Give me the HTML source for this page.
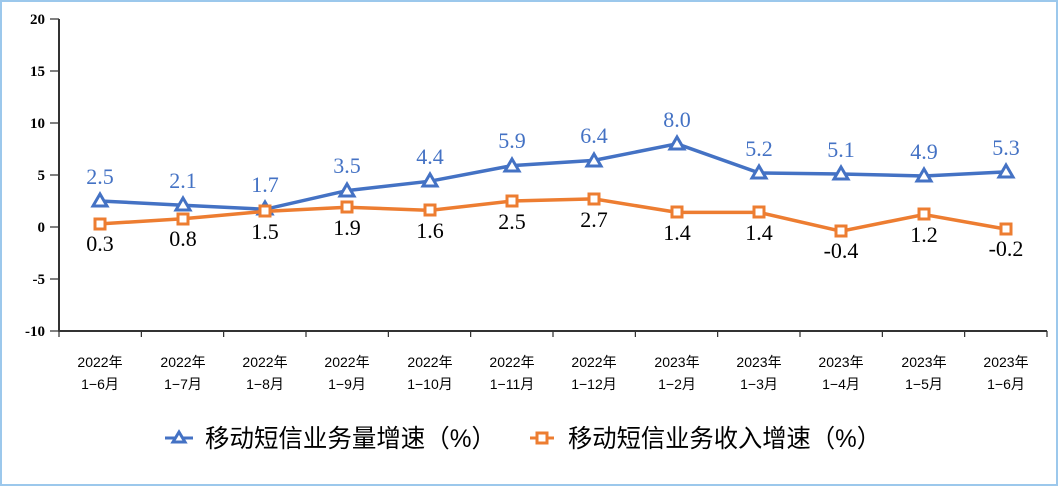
<!DOCTYPE html>
<html><head><meta charset="utf-8"><style>
html,body{margin:0;padding:0;background:#fff}
svg{display:block}
</style></head><body>
<svg width="1058" height="486" xmlns="http://www.w3.org/2000/svg">
<rect x="1" y="1" width="1056" height="484" fill="#fff" stroke="#9cc8ec" stroke-width="2"/>
<g font-family="Liberation Serif, serif" font-weight="bold" font-size="15" text-anchor="end" fill="#000">
<text x="45" y="24">20</text><text x="45" y="76">15</text><text x="45" y="128">10</text>
<text x="45" y="180">5</text><text x="45" y="232">0</text><text x="45" y="284">-5</text><text x="45" y="336">-10</text>
</g>
<g stroke="#000" stroke-width="1">
<line x1="50" y1="19" x2="59" y2="19"/><line x1="50" y1="71" x2="59" y2="71"/><line x1="50" y1="123" x2="59" y2="123"/>
<line x1="50" y1="175" x2="59" y2="175"/><line x1="50" y1="227" x2="59" y2="227"/><line x1="50" y1="279" x2="59" y2="279"/><line x1="50" y1="331" x2="59" y2="331"/>
</g>
<g stroke="#000" stroke-width="1">
<line x1="59" y1="331" x2="59" y2="337"/><line x1="141.3" y1="331" x2="141.3" y2="337"/><line x1="223.7" y1="331" x2="223.7" y2="337"/>
<line x1="306" y1="331" x2="306" y2="337"/><line x1="388.3" y1="331" x2="388.3" y2="337"/><line x1="470.7" y1="331" x2="470.7" y2="337"/>
<line x1="553" y1="331" x2="553" y2="337"/><line x1="635.3" y1="331" x2="635.3" y2="337"/><line x1="717.7" y1="331" x2="717.7" y2="337"/>
<line x1="800" y1="331" x2="800" y2="337"/><line x1="882.3" y1="331" x2="882.3" y2="337"/><line x1="964.7" y1="331" x2="964.7" y2="337"/><line x1="1047" y1="331" x2="1047" y2="337"/>
</g>
<line x1="59" y1="19" x2="59" y2="331" stroke="#333" stroke-width="2"/>
<line x1="59" y1="331" x2="1047" y2="331" stroke="#333" stroke-width="2"/>
<g font-family="Liberation Sans, Noto Sans CJK SC, sans-serif" font-size="14" text-anchor="middle" fill="#000">
<text x="100" y="367">2022年</text><text x="100" y="389">1−6月</text>
<text x="183" y="367">2022年</text><text x="183" y="389">1−7月</text>
<text x="265" y="367">2022年</text><text x="265" y="389">1−8月</text>
<text x="347" y="367">2022年</text><text x="347" y="389">1−9月</text>
<text x="430" y="367">2022年</text><text x="430" y="389">1−10月</text>
<text x="512" y="367">2022年</text><text x="512" y="389">1−11月</text>
<text x="594" y="367">2022年</text><text x="594" y="389">1−12月</text>
<text x="677" y="367">2023年</text><text x="677" y="389">1−2月</text>
<text x="759" y="367">2023年</text><text x="759" y="389">1−3月</text>
<text x="841" y="367">2023年</text><text x="841" y="389">1−4月</text>
<text x="924" y="367">2023年</text><text x="924" y="389">1−5月</text>
<text x="1006" y="367">2023年</text><text x="1006" y="389">1−6月</text>
</g>
<polyline fill="none" stroke="#4472c4" stroke-width="3.5" points="100,201 183,205.2 265,209.3 347,190.6 430,181.2 512,165.6 594,160.4 677,143.8 759,172.9 841,174 924,176 1006,171.9"/>
<g fill="#fff" stroke="#4472c4" stroke-width="3">
<polygon points="100,194 107,206 93,206"/><polygon points="183,198 190,210 176,210"/><polygon points="265,202 272,214 258,214"/>
<polygon points="347,184 354,196 340,196"/><polygon points="430,174 437,186 423,186"/><polygon points="512,159 519,171 505,171"/>
<polygon points="594,154 601,166 587,166"/><polygon points="677,137 684,149 670,149"/><polygon points="759,166 766,178 752,178"/>
<polygon points="841,167 848,179 834,179"/><polygon points="924,169 931,181 917,181"/><polygon points="1006,165 1013,177 999,177"/>
</g>
<polyline fill="none" stroke="#ed7d31" stroke-width="3.5" points="100,223.9 183,218.7 265,211.4 347,207.2 430,210.4 512,201 594,198.9 677,212.4 759,212.4 841,231.2 924,214.5 1006,229.1"/>
<g fill="#fff" stroke="#ed7d31" stroke-width="3">
<rect x="95" y="219" width="10" height="10"/><rect x="178" y="214" width="10" height="10"/><rect x="260" y="206" width="10" height="10"/>
<rect x="342" y="202" width="10" height="10"/><rect x="425" y="205" width="10" height="10"/><rect x="507" y="196" width="10" height="10"/>
<rect x="589" y="194" width="10" height="10"/><rect x="672" y="207" width="10" height="10"/><rect x="754" y="207" width="10" height="10"/>
<rect x="836" y="226" width="10" height="10"/><rect x="919" y="209" width="10" height="10"/><rect x="1001" y="224" width="10" height="10"/>
</g>
<g font-family="Liberation Serif, serif" font-size="22" text-anchor="middle" fill="#4472c4">
<text x="100" y="184">2.5</text><text x="183" y="188">2.1</text><text x="265" y="192">1.7</text>
<text x="347" y="173">3.5</text><text x="430" y="164">4.4</text><text x="512" y="148">5.9</text>
<text x="594" y="143">6.4</text><text x="677" y="127">8.0</text><text x="759" y="156">5.2</text>
<text x="841" y="157">5.1</text><text x="924" y="159">4.9</text><text x="1006" y="155">5.3</text>
</g>
<g font-family="Liberation Serif, serif" font-size="22" text-anchor="middle" fill="#000">
<text x="100" y="251">0.3</text><text x="183" y="246">0.8</text><text x="265" y="239">1.5</text>
<text x="347" y="235">1.9</text><text x="430" y="238">1.6</text><text x="512" y="229">2.5</text>
<text x="594" y="227">2.7</text><text x="677" y="240">1.4</text><text x="759" y="240">1.4</text>
<text x="841" y="258">-0.4</text><text x="924" y="242">1.2</text><text x="1006" y="256">-0.2</text>
</g>
<line x1="165" y1="438" x2="193" y2="438" stroke="#4472c4" stroke-width="3"/>
<polygon points="179,432 185,442 173,442" fill="#fff" stroke="#4472c4" stroke-width="3"/>
<text x="205" y="447" font-family="Liberation Sans, Noto Sans CJK SC, sans-serif" font-size="25" textLength="291" lengthAdjust="spacingAndGlyphs" fill="#000">移动短信业务量增速（%）</text>
<line x1="530" y1="438" x2="554" y2="438" stroke="#ed7d31" stroke-width="3"/>
<rect x="537" y="433" width="10" height="10" fill="#fff" stroke="#ed7d31" stroke-width="3"/>
<text x="568" y="447" font-family="Liberation Sans, Noto Sans CJK SC, sans-serif" font-size="25" textLength="313" lengthAdjust="spacingAndGlyphs" fill="#000">移动短信业务收入增速（%）</text>
</svg>
</body></html>
